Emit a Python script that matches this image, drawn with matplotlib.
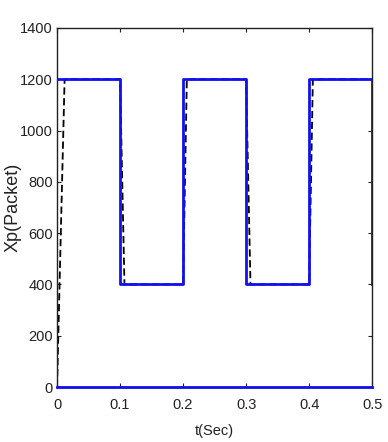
import numpy as np
import matplotlib.pyplot as plt

# %% DATA
t_ref = [0, 0.1, 0.1, 0.2, 0.2, 0.3, 0.3, 0.4, 0.4, 0.5, 0.5]
xp_ref = [1200, 1200, 400, 400, 1200, 1200, 400, 400, 1200, 1200, 400]
t_base = [0, 0.5]
xp_base = [0, 0]
t_out = [0, 0.012, 0.1, 0.107, 0.2, 0.206, 0.3, 0.307, 0.4, 0.406, 0.5]
xp_out = [0, 1200, 1200, 400, 400, 1200, 1200, 400, 400, 1200, 1200]

xticks = [0, 0.1, 0.2, 0.3, 0.4, 0.5]
xticklabels = ['0', '0.1', '0.2', '0.3', '0.4', '0.5']
yticks = [0, 200, 400, 600, 800, 1000, 1200, 1400]

plt.rcParams['font.family'] = ['Liberation Sans', 'DejaVu Sans']

# %% PLOT
fig = plt.figure(figsize=(3.88, 4.42), dpi=100)
ax = fig.add_axes([0.147, 0.1244, 0.812, 0.8123])

ax.plot(t_out, xp_out, color='black', linestyle=(0, (4, 2)), linewidth=1.3, zorder=2)
ax.plot(t_ref, xp_ref, color='#1010f0', linewidth=2.0, zorder=3)
ax.plot(t_base, xp_base, color='#1010f0', linewidth=2.0, zorder=3, clip_on=False)

ax.set_xlim(0, 0.5)
ax.set_ylim(0, 1400)
ax.set_xticks(xticks)
ax.set_xticklabels(xticklabels)
ax.set_yticks(yticks)
ax.tick_params(direction='in', top=True, right=True, length=3, width=0.8,
               labelsize=10.5, colors='#222222')
ax.tick_params(axis='x', pad=8)
ax.tick_params(axis='y', pad=3)
for s in ax.spines.values():
    s.set_linewidth(1.0)
    s.set_color('#222222')

ax.set_xlabel('t(Sec)', fontsize=10.5, color='#222222')
ax.set_ylabel('Xp(Packet)', fontsize=13, color='#222222')
ax.xaxis.set_label_coords(0.5, -0.104)
ax.yaxis.set_label_coords(-0.112, 0.5)

fig.savefig('out.png', dpi=100)
